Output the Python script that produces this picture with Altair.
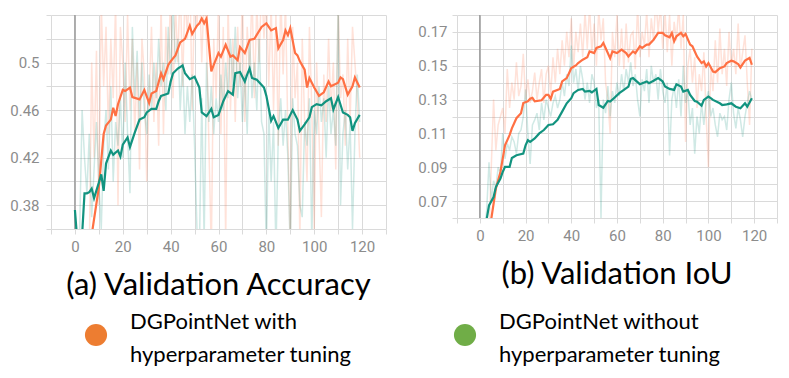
import altair as alt
import pandas as pd

# ---------------- data ----------------
panel_titles = ["(a) Validation Accuracy", "(b) Validation IoU"]
series_names = ["with", "without"]
legend_keys = ["DGPointNet with hyperparameter tuning", "DGPointNet without hyperparameter tuning"]
legend_labels = ["DGPointNet with\nhyperparameter tuning", "DGPointNet without\nhyperparameter tuning"]

raw_steps = list(range(120))

# (a) accuracy – smoothed
acc_with_steps = [7,10,12,13,15,16,17,18,20,21,23,24,27,29,31,32,34,36,37,39,40,42,44,46,48,49,51,52,53,54,55,57,58,60,61,63,65,66,68,69,71,73,75,78,80,82,84,85,87,88,89,90,92,93,94,96,97,98,100,102,104,106,107,110,111,112,114,116,117,119]
acc_with_smooth = [0.355,0.395,0.44,0.447,0.452,0.462,0.455,0.465,0.477,0.476,0.479,0.471,0.469,0.477,0.466,0.474,0.476,0.491,0.486,0.498,0.501,0.506,0.517,0.52,0.531,0.524,0.531,0.533,0.537,0.533,0.537,0.4925,0.498,0.508,0.505,0.515,0.505,0.506,0.502,0.513,0.508,0.519,0.52,0.53,0.533,0.527,0.529,0.512,0.519,0.527,0.523,0.529,0.508,0.506,0.501,0.494,0.479,0.487,0.479,0.472,0.475,0.484,0.48,0.483,0.4875,0.486,0.473,0.48,0.4875,0.479]
acc_without_steps = [0,1,2,3,4,5,6,7,8,10,11,12,13,15,16,18,19,20,22,23,25,27,29,30,32,34,35,36,39,40,41,43,45,46,48,50,52,53,55,57,58,60,62,64,66,67,69,71,72,73,74,76,79,80,82,83,85,87,89,91,93,94,96,98,99,101,103,105,107,108,110,112,114,115,116,117,119]
acc_without_smooth = [0.376,0.35,0.35,0.355,0.39,0.39,0.391,0.394,0.386,0.399,0.406,0.392,0.415,0.426,0.4225,0.426,0.421,0.431,0.437,0.429,0.441,0.452,0.454,0.458,0.461,0.461,0.4675,0.472,0.474,0.484,0.491,0.495,0.4975,0.491,0.486,0.488,0.479,0.458,0.455,0.461,0.454,0.456,0.4675,0.476,0.473,0.491,0.492,0.484,0.49,0.495,0.487,0.4855,0.479,0.472,0.451,0.455,0.445,0.452,0.452,0.46,0.452,0.4425,0.448,0.454,0.4625,0.465,0.464,0.4675,0.47,0.4605,0.471,0.458,0.456,0.454,0.4425,0.449,0.456]

# (a) accuracy – raw
acc_with_raw = [0.30,0.32,0.31,0.33,0.34,0.35,0.34,0.50,0.42,0.51,0.38,0.55,0.48,0.53,0.44,0.52,0.47,0.55,0.38,0.53,
                0.50,0.45,0.54,0.46,0.52,0.44,0.50,0.41,0.52,0.49,0.40,0.47,0.53,0.45,0.50,0.43,0.55,0.44,0.53,0.49,
                0.56,0.47,0.55,0.50,0.57,0.48,0.56,0.52,0.58,0.46,0.56,0.53,0.57,0.50,0.56,0.52,0.43,0.34,0.52,0.47,
                0.55,0.44,0.53,0.35,0.55,0.46,0.52,0.45,0.53,0.48,0.56,0.45,0.53,0.49,0.56,0.47,0.55,0.50,0.57,0.52,
                0.56,0.48,0.55,0.46,0.54,0.43,0.56,0.49,0.55,0.44,0.34,0.53,0.47,0.50,0.35,0.52,0.45,0.40,0.53,0.46,
                0.36,0.50,0.44,0.37,0.49,0.45,0.52,0.46,0.50,0.41,0.55,0.47,0.49,0.43,0.52,0.45,0.53,0.50,0.47,0.42]
acc_without_raw = [0.375,0.34,0.36,0.46,0.42,0.39,0.44,0.37,0.41,0.45,0.40,0.36,0.43,0.46,0.41,0.48,0.40,0.45,0.43,0.47,
                   0.42,0.50,0.44,0.39,0.53,0.47,0.51,0.45,0.50,0.46,0.44,0.49,0.46,0.50,0.47,0.52,0.48,0.50,0.46,0.53,
                   0.49,0.55,0.50,0.52,0.46,0.50,0.44,0.48,0.45,0.49,0.43,0.36,0.34,0.47,0.35,0.50,0.45,0.48,0.44,0.47,
                   0.45,0.49,0.46,0.50,0.47,0.52,0.48,0.53,0.47,0.50,0.45,0.49,0.44,0.52,0.47,0.50,0.46,0.52,0.45,0.44,
                   0.34,0.46,0.40,0.45,0.34,0.44,0.47,0.43,0.46,0.42,0.34,0.47,0.44,0.43,0.38,0.37,0.45,0.43,0.47,0.35,
                   0.46,0.44,0.48,0.45,0.47,0.42,0.48,0.44,0.46,0.43,0.55,0.38,0.44,0.46,0.41,0.45,0.36,0.44,0.49,0.45]

# (b) IoU – smoothed
iou_with_steps = [5,7,9,10,11,13,14,16,18,19,21,22,23,24,27,29,30,31,32,35,36,38,39,40,42,43,45,47,48,50,51,53,54,55,57,58,60,62,64,65,67,68,70,71,73,74,76,78,80,81,83,84,85,86,88,89,90,92,93,95,97,98,99,100,102,103,105,107,108,110,111,113,114,116,118,119]
iou_with_smooth = [0.0595,0.0773,0.0872,0.0951,0.103,0.109,0.113,0.119,0.122,0.128,0.129,0.1305,0.131,0.129,0.1296,0.1328,0.1328,0.1304,0.1347,0.1363,0.1407,0.1427,0.1456,0.1486,0.1502,0.1516,0.1536,0.155,0.1585,0.1575,0.1605,0.1615,0.1635,0.1605,0.1545,0.1585,0.1575,0.1595,0.1575,0.1555,0.1585,0.1575,0.1615,0.1605,0.1625,0.1625,0.1654,0.1694,0.1694,0.168,0.1668,0.1694,0.1645,0.1674,0.1694,0.1674,0.1688,0.1625,0.1615,0.1555,0.1516,0.1526,0.1496,0.1516,0.1466,0.1462,0.1486,0.1496,0.1516,0.153,0.1526,0.151,0.149,0.153,0.1546,0.1506]
iou_without_steps = [3,4,6,7,9,10,11,13,14,16,19,20,21,22,24,26,28,30,32,34,36,38,40,41,43,45,46,48,49,51,52,54,56,57,59,61,63,65,66,67,69,70,73,74,76,78,80,81,83,85,86,88,89,91,92,94,95,97,98,100,101,102,105,106,108,110,112,114,116,117,119]
iou_without_smooth = [0.0595,0.0674,0.0724,0.0783,0.0833,0.0872,0.0902,0.0902,0.0955,0.0971,0.0981,0.103,0.106,0.105,0.107,0.11,0.112,0.115,0.1154,0.118,0.1229,0.1278,0.1308,0.1338,0.1357,0.1363,0.1347,0.1351,0.1343,0.1363,0.1268,0.1252,0.1292,0.1288,0.1312,0.1338,0.1357,0.1377,0.1423,0.1427,0.1403,0.1391,0.1407,0.1397,0.1411,0.1427,0.1407,0.1377,0.1363,0.1357,0.1391,0.1377,0.1347,0.1357,0.1328,0.1292,0.1288,0.1264,0.1298,0.1318,0.1308,0.1298,0.1278,0.1268,0.1272,0.1278,0.1258,0.1249,0.1278,0.1258,0.1308]

# (b) IoU – raw
iou_with_raw = [0.03,0.035,0.04,0.045,0.05,0.09,0.13,0.10,0.115,0.12,0.125,0.11,0.148,0.125,0.14,0.13,0.152,0.132,0.138,0.157,
                0.13,0.142,0.128,0.135,0.146,0.13,0.14,0.148,0.128,0.145,0.15,0.133,0.155,0.14,0.16,0.145,0.165,0.15,0.17,0.155,
                0.178,0.148,0.17,0.158,0.175,0.155,0.182,0.16,0.185,0.158,0.175,0.15,0.183,0.165,0.178,0.14,0.13,0.11,0.17,0.155,
                0.18,0.15,0.172,0.148,0.175,0.152,0.168,0.17,0.148,0.185,0.155,0.17,0.162,0.182,0.155,0.178,0.165,0.19,0.17,0.185,
                0.16,0.182,0.158,0.18,0.15,0.176,0.165,0.185,0.16,0.18,0.105,0.15,0.16,0.14,0.155,0.125,0.145,0.135,0.158,0.12,
                0.09,0.15,0.135,0.165,0.14,0.172,0.145,0.16,0.138,0.17,0.15,0.16,0.145,0.175,0.148,0.158,0.168,0.14,0.115,0.16]
iou_without_raw = [0.04,0.045,0.05,0.065,0.093,0.07,0.082,0.078,0.09,0.086,0.11,0.095,0.104,0.10,0.108,0.105,0.098,0.11,0.112,0.12,
                   0.136,0.11,0.092,0.115,0.118,0.122,0.112,0.128,0.118,0.13,0.125,0.12,0.128,0.132,0.125,0.13,0.14,0.132,0.145,0.138,
                   0.162,0.14,0.148,0.135,0.15,0.142,0.13,0.14,0.128,0.145,0.14,0.125,0.13,0.06,0.13,0.122,0.138,0.12,0.135,0.128,
                   0.14,0.132,0.145,0.135,0.148,0.14,0.152,0.138,0.145,0.13,0.12,0.142,0.135,0.148,0.128,0.15,0.14,0.145,0.13,0.148,
                   0.135,0.128,0.14,0.097,0.13,0.138,0.125,0.142,0.12,0.15,0.128,0.135,0.115,0.125,0.098,0.12,0.11,0.128,0.115,0.13,
                   0.135,0.12,0.125,0.115,0.108,0.122,0.118,0.12,0.112,0.13,0.14,0.122,0.113,0.125,0.118,0.108,0.12,0.128,0.135,0.13]

x_grid = list(range(-10, 131, 10))
acc_grid = [0.36, 0.38, 0.40, 0.42, 0.44, 0.46, 0.48, 0.50, 0.52, 0.54]
iou_grid = [0.06, 0.07, 0.08, 0.09, 0.10, 0.11, 0.12, 0.13, 0.14, 0.15, 0.16, 0.17, 0.18]
zero_step = [0]

line_colors = ["#FF7043", "#12937F"]
legend_colors = ["#ED7D31", "#70AD47"]

GRID = "#dadada"
LABEL = "#8c8c8c"


def frame(steps, vals, name):
    assert len(steps) == len(vals)
    return pd.DataFrame({"step": steps, "value": vals, "series": name})


def panel(title, raw_w, raw_wo, s_w_steps, s_w, s_wo_steps, s_wo, ydomain, ygrid, ylabel_expr, w, h, lpad):
    raw = pd.concat([frame(raw_steps, raw_w, "with"), frame(raw_steps, raw_wo, "without")])
    smooth = pd.concat([frame(s_w_steps, s_w, "with"), frame(s_wo_steps, s_wo, "without")])
    zero = pd.DataFrame({"step": zero_step})
    xaxis = alt.Axis(values=x_grid, title=None, grid=True, gridColor=GRID, gridWidth=1,
                     tickColor=GRID, tickSize=5, domain=False,
                     labelExpr="(datum.value % 20 == 0 && datum.value >= 0 && datum.value <= 120) ? datum.label : ''",
                     labelColor=LABEL, labelFont="Roboto", labelFontSize=15, labelPadding=5,
                     labelFlush=False, labelOverlap=False)
    yaxis = alt.Axis(values=ygrid, title=None, grid=True, gridColor=GRID, gridWidth=1,
                     tickColor=GRID, tickSize=5, domain=False, format=".2~f",
                     labelExpr=ylabel_expr, labelColor=LABEL, labelFont="Roboto",
                     labelFontSize=15, labelPadding=lpad, labelOverlap=False, labelFlush=False)
    xscale = alt.Scale(domain=[-10, 130], nice=False, zero=False)
    yscale = alt.Scale(domain=ydomain, nice=False, zero=False)
    xenc = alt.X("step:Q", scale=xscale, axis=xaxis)
    yenc = alt.Y("value:Q", scale=yscale, axis=yaxis)
    color = alt.Color("series:N", scale=alt.Scale(domain=series_names, range=line_colors), legend=None)
    raw_layer = alt.Chart(raw).mark_line(clip=True, strokeWidth=1.5, opacity=0.2).encode(
        x=xenc, y=yenc, color=color, detail="series:N")
    zero_rule = alt.Chart(zero).mark_rule(color="#9a9a9a", strokeWidth=1.5).encode(x=xenc)
    smooth_layer = alt.Chart(smooth).mark_line(clip=True, strokeWidth=2.2).encode(
        x=xenc, y=yenc, color=color, detail="series:N")
    return alt.layer(raw_layer, zero_rule, smooth_layer).properties(
        width=w, height=h,
        title=alt.TitleParams(title, orient="bottom", font="Lato", fontSize=31, fontWeight="normal",
                              color="black", offset=17, anchor="middle"))


left = panel(panel_titles[0], acc_with_raw, acc_without_raw, acc_with_steps, acc_with_smooth,
             acc_without_steps, acc_without_smooth, [0.36, 0.54], acc_grid,
             "(round(datum.value * 100) % 4 == 2 && datum.value < 0.53) ? datum.label : ''", 335, 214, 7)
right = panel(panel_titles[1], iou_with_raw, iou_without_raw, iou_with_steps, iou_with_smooth,
              iou_without_steps, iou_without_smooth, [0.06, 0.18], iou_grid,
              "(round(datum.value * 100) % 2 == 1) ? datum.label : ''", 320, 203, 5)

legend_df = pd.DataFrame({"key": legend_keys, "label": legend_labels})
lx = alt.X("key:N", scale=alt.Scale(domain=legend_keys, range=[45, 414], padding=0), axis=None)
legend_dots = alt.Chart(legend_df).mark_circle(size=490, opacity=1).encode(
    x=lx, y=alt.value(30),
    color=alt.Color("key:N", scale=alt.Scale(domain=legend_keys, range=legend_colors), legend=None))
legend_text = alt.Chart(legend_df).mark_text(align="left", baseline="middle", dx=34, font="Lato",
                                             fontSize=22, lineHeight=33, lineBreak="\n", color="black").encode(
    x=lx, y=alt.value(17), text="label:N")
legend = alt.layer(legend_dots, legend_text).properties(width=700, height=60)

chart = alt.vconcat(alt.hconcat(left, right, spacing=30), legend, spacing=4).properties(
    padding={"left": 9, "top": 8, "right": 0, "bottom": 0}
).resolve_scale(color="independent", x="independent").configure_view(stroke=None)

chart.save("out.html", embed_options={"renderer": "svg", "actions": False})
